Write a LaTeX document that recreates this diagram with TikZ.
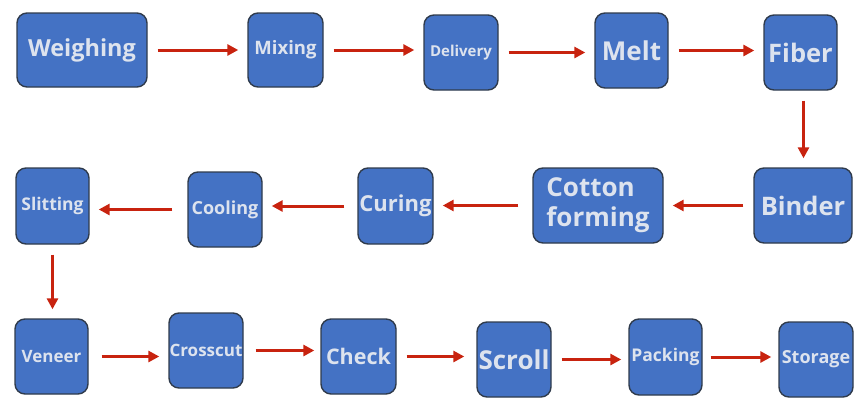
\documentclass[tikz,border=0pt]{standalone}
\usepackage{fontspec}
\setsansfont{Open Sans}
\usetikzlibrary{arrows.meta}

\definecolor{stageblue}{HTML}{4472C4}
\definecolor{stageedge}{HTML}{2F3B4C}
\definecolor{stagetext}{HTML}{DDE3EE}
\definecolor{flowred}{HTML}{C8230F}

\tikzset{
  stage/.style={draw=stageedge, fill=stageblue, line width=1.4pt,
    rounded corners=10pt, inner sep=0pt, text=stagetext,
    font=\sffamily\bfseries, align=center},
  flow/.style={draw=flowred, line width=3pt,
    -{Triangle[length=11pt,width=11pt]},
    shorten <=10pt, shorten >=9pt}
}

\begin{document}
\begin{tikzpicture}[x=1pt, y=-1pt]
  \useasboundingbox (0,0) rectangle (865,410);

  % Row 1
  \node[stage, minimum width=130pt, minimum height=74pt,
    font=\sffamily\bfseries\fontsize{23.5}{28}\selectfont] (weigh) at (82,50) {Weighing};
  \node[stage, minimum width=75pt, minimum height=74pt,
    font=\sffamily\bfseries\fontsize{18.5}{22}\selectfont] (mix) at (285.5,50) {Mixing};
  \node[stage, minimum width=74pt, minimum height=75pt,
    font=\sffamily\bfseries\fontsize{15}{18}\selectfont] (deliv) at (461,52.5) {Delivery};
  \node[stage, minimum width=73pt, minimum height=75pt,
    font=\sffamily\bfseries\fontsize{26}{31}\selectfont] (melt) at (631.5,50.5) {Melt};
  \node[stage, minimum width=73pt, minimum height=75pt,
    font=\sffamily\bfseries\fontsize{25.5}{30}\selectfont] (fiber) at (800.5,52.5) {Fiber};

  % Row 2
  \node[stage, minimum width=98pt, minimum height=75pt,
    font=\sffamily\bfseries\fontsize{25.5}{30}\selectfont] (binder) at (803,205.5) {Binder};
  \node[stage, minimum width=130pt, minimum height=75pt, align=left,
    font=\sffamily\bfseries\fontsize{26}{30}\selectfont] (cotton) at (598,205.5) {Cotton\\forming};
  \node[stage, minimum width=75pt, minimum height=76pt,
    font=\sffamily\bfseries\fontsize{22}{26}\selectfont] (cure) at (395.5,206) {Curing};
  \node[stage, minimum width=74pt, minimum height=75pt,
    font=\sffamily\bfseries\fontsize{18}{22}\selectfont] (cool) at (225,209.5) {Cooling};
  \node[stage, minimum width=73pt, minimum height=76pt,
    font=\sffamily\bfseries\fontsize{17.5}{21}\selectfont] (slit) at (52.5,206) {Slitting};

  % Row 3
  \node[stage, minimum width=73pt, minimum height=75pt,
    font=\sffamily\bfseries\fontsize{17}{20}\selectfont] (veneer) at (51.5,356.5) {Veneer};
  \node[stage, minimum width=74pt, minimum height=75pt,
    font=\sffamily\bfseries\fontsize{17}{20}\selectfont] (cross) at (206,350.5) {Crosscut};
  \node[stage, minimum width=75pt, minimum height=75pt,
    font=\sffamily\bfseries\fontsize{21.5}{26}\selectfont] (check) at (358.5,356.5) {Check};
  \node[stage, minimum width=74pt, minimum height=75pt,
    font=\sffamily\bfseries\fontsize{26}{31}\selectfont] (scroll) at (514,359.5) {Scroll};
  \node[stage, minimum width=73pt, minimum height=76pt,
    font=\sffamily\bfseries\fontsize{17.5}{21}\selectfont] (pack) at (665.5,357) {Packing};
  \node[stage, minimum width=74pt, minimum height=75pt,
    font=\sffamily\bfseries\fontsize{18}{22}\selectfont] (store) at (816,359.5) {Storage};

  % Arrows, row 1
  \draw[flow] (weigh.east) -- (weigh.east -| mix.west);
  \draw[flow] (mix.east) -- (mix.east -| deliv.west);
  \draw[flow] (deliv.east) -- (deliv.east -| melt.west);
  \draw[flow] (melt.east) -- (melt.east -| fiber.west);
  \draw[flow] ([xshift=3pt]fiber.south) -- ([xshift=3pt]fiber.south |- binder.north);

  % Arrows, row 2
  \draw[flow] (binder.west) -- (binder.west -| cotton.east);
  \draw[flow, shorten <=14pt] (cotton.west) -- (cotton.west -| cure.east);
  \draw[flow, shorten <=13pt] (cure.west) -- (cure.west -| cool.east);
  \draw[flow, shorten <=15pt] (cool.west) -- (cool.west -| slit.east);
  \draw[flow] (slit.south) -- (slit.south |- veneer.north);

  % Arrows, row 3
  \draw[flow, shorten <=13pt] (veneer.east) -- (veneer.east -| cross.west);
  \draw[flow, shorten <=12pt, shorten >=6pt] (cross.east) -- (cross.east -| check.west);
  \draw[flow, shorten >=12pt] (check.east) -- (check.east -| scroll.west);
  \draw[flow, shorten >=7pt] (scroll.east) -- (scroll.east -| pack.west);
  \draw[flow, shorten <=8pt, shorten >=7pt] (pack.east) -- (pack.east -| store.west);
\end{tikzpicture}
\end{document}
